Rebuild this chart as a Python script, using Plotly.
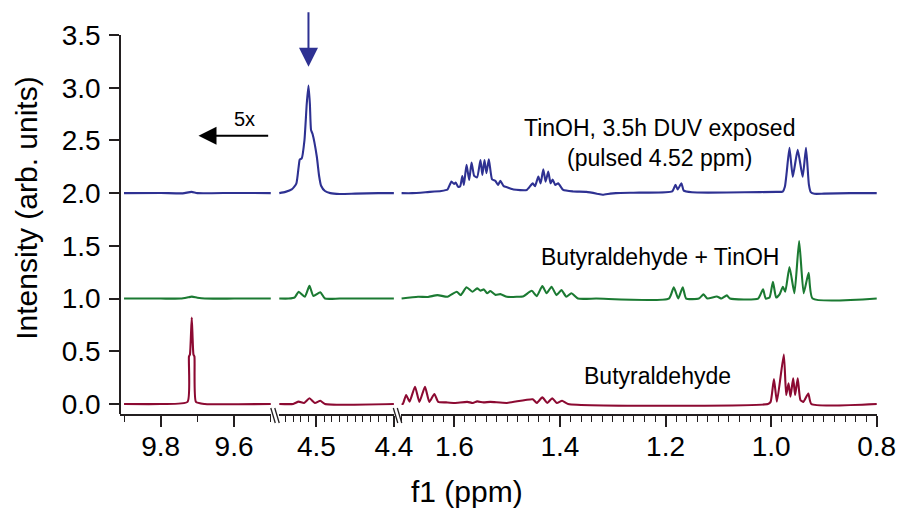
import plotly.graph_objects as go

FONT = "Liberation Sans, Arial, sans-serif"
AXIS_COLOR = "#231f20"

# ---- spectra: chemical shift (ppm) and intensity above each trace's baseline ----
ppm_duv = [9.90, 9.80, 9.74, 9.716, 9.70, 9.60, 9.50,
           4.548, 4.540, 4.532, 4.526, 4.523, 4.5215, 4.519, 4.5155, 4.5125, 4.5103,
           4.5085, 4.507, 4.505, 4.4996, 4.4965, 4.494, 4.489, 4.482, 4.470, 4.450, 4.420, 4.400,
           1.700, 1.680, 1.651, 1.625, 1.613, 1.6056, 1.6006, 1.5975, 1.593, 1.589, 1.585, 1.582,
           1.577, 1.572, 1.5675, 1.5625, 1.557, 1.5506, 1.547, 1.543, 1.5393, 1.5348, 1.5286,
           1.5224, 1.5174, 1.513, 1.5067, 1.500, 1.488, 1.463, 1.4516, 1.4473, 1.441, 1.4366,
           1.4316, 1.4272, 1.4222, 1.4178, 1.414, 1.409, 1.4034, 1.394, 1.375, 1.350, 1.330,
           1.319, 1.305, 1.294, 1.250, 1.1874, 1.1812, 1.177, 1.170, 1.1656, 1.150, 1.1187,
           1.050, 0.990, 0.978, 0.974, 0.9705, 0.9653, 0.959, 0.9497, 0.9403, 0.934, 0.9285,
           0.925, 0.918, 0.900, 0.850, 0.800]
int_duv = [0.000, 0.002, -0.002, 0.012, 0.000, 0.002, 0.000,
           0.000, 0.012, 0.035, 0.090, 0.250, 0.320, 0.330, 0.500, 0.850, 1.020,
           0.850, 0.600, 0.560, 0.350, 0.160, 0.070, 0.020, 0.000, -0.008, -0.005, 0.000, 0.000,
           0.000, 0.000, 0.010, 0.020, 0.035, 0.110, 0.087, 0.100, 0.060, 0.065, 0.163, 0.078,
           0.268, 0.125, 0.290, 0.163, 0.150, 0.315, 0.173, 0.315, 0.190, 0.320, 0.130,
           0.116, 0.078, 0.116, 0.066, 0.055, 0.035, 0.030, 0.093, 0.066, 0.157, 0.093,
           0.227, 0.109, 0.204, 0.093, 0.130, 0.078, 0.093, 0.030, 0.016, 0.012, -0.005,
           -0.016, -0.005, 0.000, 0.005, 0.016, 0.078, 0.035, 0.093, 0.024, 0.008, 0.005,
           0.008, 0.012, 0.015, 0.060, 0.200, 0.430, 0.155, 0.410, 0.155, 0.430, 0.080,
           0.010, -0.006, -0.005, 0.000, 0.000]

ppm_mix = [9.90, 9.80, 9.745, 9.725, 9.715, 9.70, 9.68, 9.60, 9.50,
           4.548, 4.536, 4.528, 4.523, 4.515, 4.509, 4.504, 4.495, 4.489, 4.470, 4.400,
           1.700, 1.669, 1.650, 1.632, 1.613, 1.5956, 1.588, 1.577, 1.566, 1.557, 1.5506,
           1.544, 1.538, 1.532, 1.522, 1.513, 1.5005, 1.482, 1.469, 1.4535, 1.444, 1.4334,
           1.4253, 1.416, 1.4066, 1.3972, 1.388, 1.3784, 1.366, 1.3315, 1.1938, 1.1844,
           1.176, 1.1675, 1.161, 1.137, 1.128, 1.121, 1.103, 1.094, 1.084, 1.078, 1.0247,
           1.0154, 1.0103, 1.003, 0.9966, 0.9906, 0.984, 0.9778, 0.9733, 0.9653, 0.9559,
           0.947, 0.9384, 0.929, 0.9215, 0.800]
int_mix = [0.000, 0.000, 0.000, 0.012, 0.018, 0.008, 0.000, 0.000, 0.000,
           0.000, 0.000, 0.012, 0.065, 0.018, 0.120, 0.024, 0.060, 0.000, 0.000, 0.000,
           0.000, 0.017, 0.015, 0.033, 0.017, 0.065, 0.033, 0.107, 0.065, 0.097, 0.075,
           0.087, 0.050, 0.072, 0.035, 0.042, 0.017, 0.017, 0.023, 0.074, 0.023, 0.119,
           0.050, 0.112, 0.033, 0.081, 0.017, 0.050, 0.000, 0.000, 0.000, 0.107,
           0.000, 0.107, 0.000, 0.000, 0.040, 0.000, 0.020, 0.000, 0.030, 0.000, 0.000,
           0.087, 0.000, 0.010, 0.160, 0.010, 0.040, 0.112, 0.065, 0.300, 0.050,
           0.545, 0.050, 0.245, 0.000, 0.000]

ppm_ald = [9.90, 9.80, 9.727, 9.723, 9.7203, 9.7154, 9.7108, 9.7081, 9.704, 9.68, 9.50,
           4.548, 4.530, 4.523, 4.516, 4.509, 4.502, 4.495, 4.489, 4.400,
           1.700, 1.6977, 1.6914, 1.685, 1.6746, 1.6663, 1.6557, 1.6475, 1.638, 1.6306,
           1.616, 1.600, 1.5756, 1.565, 1.5568, 1.545, 1.532, 1.5005, 1.4516, 1.444, 1.4334,
           1.424, 1.4147, 1.406, 1.396, 1.3846, 1.006, 1.001, 0.9947, 0.9891, 0.9760,
           0.9715, 0.9671, 0.9634, 0.9583, 0.9546, 0.9497, 0.9446, 0.939, 0.9296, 0.924, 0.800]
int_ald = [0.000, 0.000, 0.020, 0.450, 0.470, 0.820, 0.470, 0.450, 0.020, 0.000, 0.000,
           0.000, 0.000, 0.022, 0.010, 0.054, 0.010, 0.030, 0.000, 0.000,
           0.000, 0.000, 0.085, 0.022, 0.164, 0.020, 0.164, 0.020, 0.095, 0.020,
           0.015, 0.010, 0.020, 0.010, 0.025, 0.015, 0.020, 0.010, 0.045, 0.010, 0.063,
           0.010, 0.055, 0.010, 0.030, 0.000, 0.000, 0.020, 0.237, 0.022, 0.470,
           0.085, 0.196, 0.070, 0.244, 0.085, 0.244, 0.038, 0.020, 0.100, 0.000, 0.000]

sample_names = ["TinOH, 3.5h DUV exposed", "Butyraldehyde + TinOH", "Butyraldehyde"]
sample_offsets = [2.0, 1.0, 0.0]
sample_colors = ["#2e3192", "#1b7a32", "#8c0a32"]

# broken f1 axis: three windows (high ppm, low ppm), tick step, minor step
segments = [
    dict(lo=9.498, hi=9.911, dtick=0.2, tick0=9.6, minor=0.1),
    dict(lo=4.3994, hi=4.5487, dtick=0.1, tick0=4.4, minor=0.01),
    dict(lo=0.7995, hi=1.701, dtick=0.2, tick0=0.8, minor=0.02),
]

W, H = 908, 510
ML, MR, MT, MB = 120, 25, 35, 96
PW, PH = W - ML - MR, H - MT - MB


def px_x(px):
    return (px - ML) / PW


def px_y(py):
    return (H - MB - py) / PH


domains = [[px_x(120), px_x(272.7)], [px_x(280), px_x(396.5)], [px_x(403.3), px_x(883)]]

fig = go.Figure()
spectra = [(ppm_duv, int_duv), (ppm_mix, int_mix), (ppm_ald, int_ald)]
for (ppm, inten), name, off, col in zip(spectra, sample_names, sample_offsets, sample_colors):
    for i, seg in enumerate(segments):
        xs, ys = [], []
        for p, v in zip(ppm, inten):
            if seg["lo"] <= p <= seg["hi"]:
                xs.append(p)
                ys.append(v + off)
        fig.add_trace(go.Scatter(
            x=xs, y=ys, mode="lines", name=name, showlegend=False,
            xaxis="x" if i == 0 else f"x{i + 1}", yaxis="y",
            line=dict(color=col, width=2.1, shape="spline", smoothing=0.5),
        ))

layout = dict(
    width=W, height=H,
    margin=dict(l=ML, r=MR, t=MT, b=MB),
    paper_bgcolor="white", plot_bgcolor="white",
    font=dict(family=FONT, color="black"),
    showlegend=False,
)

for i, seg in enumerate(segments):
    key = "xaxis" if i == 0 else f"xaxis{i + 1}"
    layout[key] = dict(
        domain=domains[i], anchor="y",
        range=[seg["hi"], seg["lo"]],
        tickmode="linear", tick0=seg["tick0"], dtick=seg["dtick"], tickformat=".1f",
        showline=True, linecolor=AXIS_COLOR, linewidth=1.5,
        ticks="outside", ticklen=11, tickwidth=1.5, tickcolor=AXIS_COLOR,
        ticklabelstandoff=-4,
        tickfont=dict(size=28, family=FONT, color="black"),
        minor=dict(ticks="outside", ticklen=6, tickwidth=1.3, tickcolor=AXIS_COLOR,
                   tick0=seg["tick0"], dtick=seg["minor"], showgrid=False),
        showgrid=False, zeroline=False,
    )

layout["yaxis"] = dict(
    anchor="free", position=0, range=[-0.095, 3.5],
    tickmode="linear", tick0=0, dtick=0.5, tickformat=".1f",
    showline=True, linecolor=AXIS_COLOR, linewidth=1.5,
    ticks="outside", ticklen=10, tickwidth=1.5, tickcolor=AXIS_COLOR,
    ticklabelstandoff=3,
    tickfont=dict(size=28, family=FONT, color="black"),
    showgrid=False, zeroline=False,
)

fig.update_layout(**layout)

# axis break marks
shapes = []
for bx in (272.0, 395.5):
    for dx in (0.0, 4.0):
        shapes.append(dict(type="line", xref="paper", yref="paper",
                           x0=px_x(bx + dx), y0=px_y(408), x1=px_x(bx + dx + 4.5), y1=px_y(423),
                           line=dict(color=AXIS_COLOR, width=1.3)))
fig.update_layout(shapes=shapes)

annotations = [
    # axis titles
    dict(text="Intensity (arb. units)", xref="paper", yref="paper",
         x=px_x(25), y=px_y(208), textangle=-90, showarrow=False,
         font=dict(size=30, family=FONT), xanchor="center", yanchor="middle"),
    dict(text="f1 (ppm)", xref="paper", yref="paper",
         x=px_x(470), y=px_y(491), showarrow=False,
         font=dict(size=30, family=FONT), xanchor="center", yanchor="middle"),
    # trace labels
    dict(text="TinOH, 3.5h DUV exposed<br>(pulsed 4.52 ppm)", xref="x3", yref="y",
         x=1.212, y=2.48, showarrow=False, font=dict(size=23, family=FONT),
         xanchor="center", yanchor="middle"),
    dict(text="Butyraldehyde + TinOH", xref="x3", yref="y",
         x=1.21, y=1.395, showarrow=False, font=dict(size=23, family=FONT),
         xanchor="center", yanchor="middle"),
    dict(text="Butyraldehyde", xref="x3", yref="y",
         x=1.216, y=0.265, showarrow=False, font=dict(size=23, family=FONT),
         xanchor="center", yanchor="middle"),
    # 5x magnification arrow
    dict(text="", xref="x", yref="y", x=9.697, y=2.545,
         axref="x", ayref="y", ax=9.503, ay=2.545,
         showarrow=True, arrowhead=2, arrowsize=1.8, arrowwidth=2, arrowcolor="black"),
    dict(text="5x", xref="x", yref="y", x=9.571, y=2.7, showarrow=False,
         font=dict(size=20, family=FONT), xanchor="center", yanchor="middle"),
    # pulsed resonance marker
    dict(text="", xref="x2", yref="y", x=4.5103, y=3.2, ax=0, ay=-56,
         showarrow=True, arrowhead=2, arrowsize=1.9, arrowwidth=2, arrowcolor="#2e3192"),
]
fig.update_layout(annotations=annotations)

fig.write_html("out.html")
